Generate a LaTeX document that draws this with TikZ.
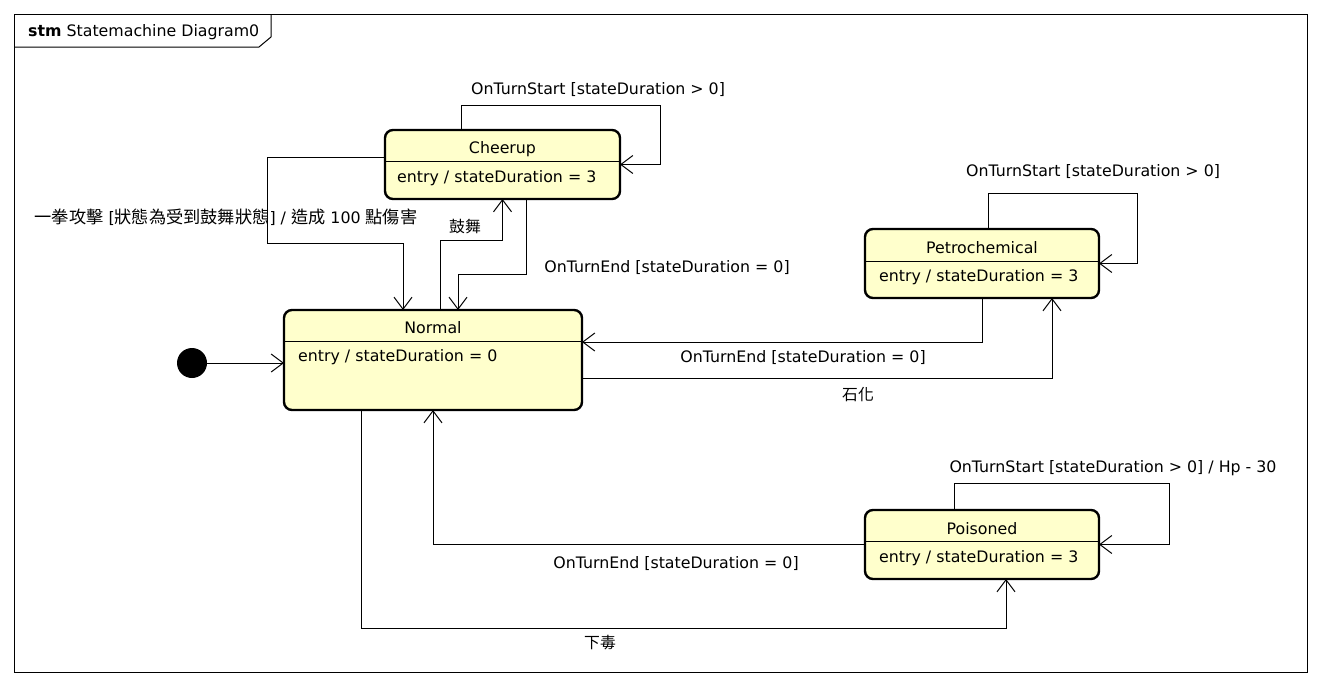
\documentclass[tikz,border=0pt]{standalone}
\usepackage{fontspec}
\setmainfont{DejaVu Sans}
\newfontfamily\cjk{Noto Sans CJK TC}
\usetikzlibrary{arrows.meta}
\definecolor{statefill}{RGB}{255,255,204}

\begin{document}
\begin{tikzpicture}[x=1pt,y=-1pt,
        every node/.style={font=\fontsize{15.8}{19}\selectfont, inner sep=0pt},
        statebox/.style={draw, line width=2.4pt, rounded corners=8pt, fill=statefill, outer sep=0pt},
        startdot/.style={circle, fill=black, minimum size=30pt},
        trans/.style={line width=1pt, -{Straight Barb[length=12pt,width=18pt]}},
        divider/.style={line width=1pt}]
        \useasboundingbox (0,0) rectangle (1321,686);

        % Frame
        \draw[line width=1pt] (14,14) rectangle (1307,672);
        \draw[line width=1pt] (14,47) -- (259,47) -- (271,37) -- (271,14);
        \node[anchor=west] (frame-title) at (28,32) {\textbf{stm} Statemachine Diagram0};

        % States
        \node[statebox, minimum width=235pt, minimum height=69pt] (cheerup) at (502.5,164.5) {};
        \draw[divider] ([yshift=-31pt]cheerup.north west) -- ([yshift=-31pt]cheerup.north east);
        \node (cheerup-name) at ([yshift=-19pt]cheerup.north) {Cheerup};
        \node[anchor=west] (cheerup-entry) at ([xshift=12pt,yshift=-48pt]cheerup.north west) {entry / stateDuration = 3};

        \node[statebox, minimum width=298pt, minimum height=100pt] (normal) at (433,360) {};
        \draw[divider] ([yshift=-31pt]normal.north west) -- ([yshift=-31pt]normal.north east);
        \node (normal-name) at ([yshift=-18pt]normal.north) {Normal};
        \node[anchor=west] (normal-entry) at ([xshift=14pt,yshift=-47pt]normal.north west) {entry / stateDuration = 0};

        \node[statebox, minimum width=234pt, minimum height=69pt] (petro) at (982,263.5) {};
        \draw[divider] ([yshift=-32pt]petro.north west) -- ([yshift=-32pt]petro.north east);
        \node (petro-name) at ([yshift=-19pt]petro.north) {Petrochemical};
        \node[anchor=west] (petro-entry) at ([xshift=14pt,yshift=-48pt]petro.north west) {entry / stateDuration = 3};

        \node[statebox, minimum width=234pt, minimum height=69pt] (poisoned) at (982,544.5) {};
        \draw[divider] ([yshift=-31pt]poisoned.north west) -- ([yshift=-31pt]poisoned.north east);
        \node (poisoned-name) at ([yshift=-19pt]poisoned.north) {Poisoned};
        \node[anchor=west] (poisoned-entry) at ([xshift=14pt,yshift=-48pt]poisoned.north west) {entry / stateDuration = 3};

        % Initial state
        \node[startdot] (init) at (192,363) {};
        \draw[trans] (init.east) -- (init.east -| normal.west);

        % Transitions of Cheerup
        \draw[trans] ([xshift=76pt]cheerup.north west) -- ++(0,-25) -| ([xshift=40pt]cheerup.east) -- (cheerup.east);
        \draw[trans] ([yshift=7pt]cheerup.west) -| (267,243) -| ([xshift=119pt]normal.north west);
        \draw[trans] ([xshift=156pt]normal.north west) -- ++(0,-70) -| (cheerup.south);
        \draw[trans] ([xshift=24pt]cheerup.south) -- ++(0,75) -| ([xshift=174pt]normal.north west);

        % Transitions of Petrochemical
        \draw[trans] ([xshift=6pt]petro.north) -- ++(0,-36) -| ([xshift=38pt]petro.east) -- (petro.east);
        \draw[trans] (petro.south) |- ([yshift=18pt]normal.east);
        \draw[trans] ([yshift=-18pt]normal.east) -| ([xshift=70pt]petro.south);

        % Transitions of Poisoned
        \draw[trans] ([xshift=-28pt]poisoned.north) -- ++(0,-27) -| ([xshift=70pt]poisoned.east) -- (poisoned.east);
        \draw[trans] (poisoned.west) -| (normal.south);
        \draw[trans] ([xshift=77pt]normal.south west) -- ++(0,218) -| ([xshift=24pt]poisoned.south);

        % Labels
        \node (lbl-cheerup-loop) at (598,90) {OnTurnStart [stateDuration > 0]};
        \node (lbl-punch) at (226,217) {{\cjk\fontsize{17.2}{19}\selectfont 一拳攻擊} [{\cjk\fontsize{17.2}{19}\selectfont 狀態為受到鼓舞狀態}] / {\cjk\fontsize{17.2}{19}\selectfont 造成} 100 {\cjk\fontsize{17.2}{19}\selectfont 點傷害}};
        \node (lbl-cheer) at (465,227) {\cjk 鼓舞};
        \node (lbl-cheerup-end) at (667,268) {OnTurnEnd [stateDuration = 0]};
        \node (lbl-petro-loop) at (1093,172) {OnTurnStart [stateDuration > 0]};
        \node (lbl-petro-end) at (803,358) {OnTurnEnd [stateDuration = 0]};
        \node (lbl-petrify) at (858,395) {\cjk 石化};
        \node (lbl-poison-loop) at (1113,468) {OnTurnStart [stateDuration > 0] / Hp - 30};
        \node (lbl-poison-end) at (676,564) {OnTurnEnd [stateDuration = 0]};
        \node (lbl-poison) at (600,643) {\cjk 下毒};
    \end{tikzpicture}
\end{document}
